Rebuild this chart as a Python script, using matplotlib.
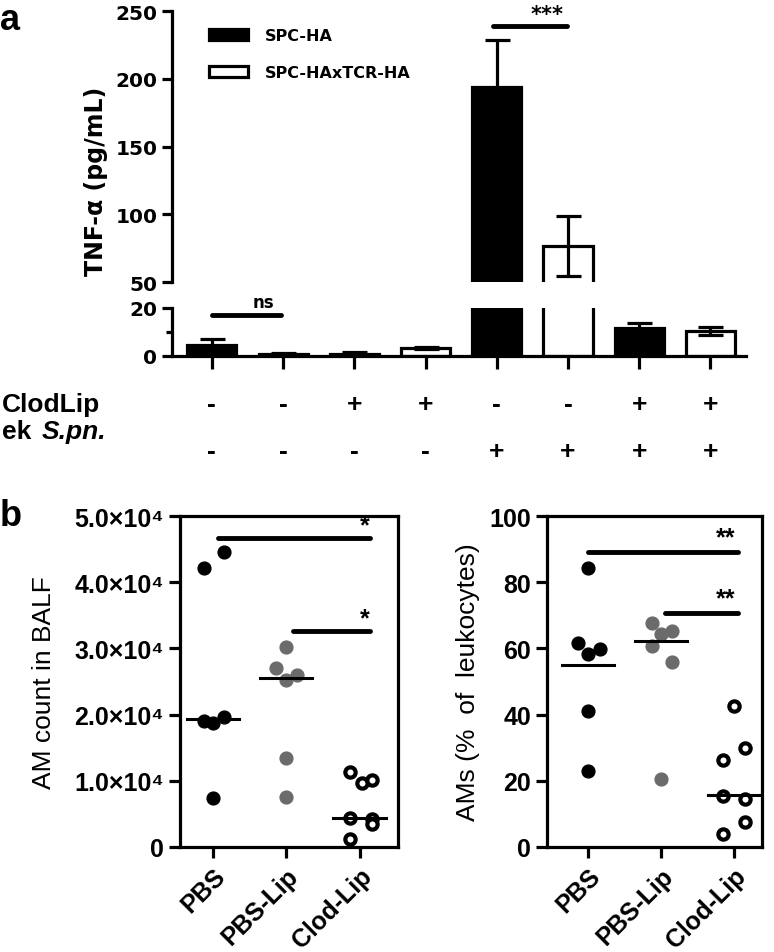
import matplotlib.pyplot as plt
import numpy as np
from matplotlib.patches import Patch
from matplotlib.transforms import blended_transform_factory

plt.rcParams['font.family'] = ['Liberation Sans', 'DejaVu Sans']
plt.rcParams['font.weight'] = 'bold'

# ---- panel a data ----
tnf_mean = [4.6, 0.8, 1.0, 3.3, 194, 76.6, 11.7, 10.4]
tnf_err = [2.5, 0.3, 0.5, 0.5, 34.5, 22, 2.0, 1.8]
bar_fill = ['black', 'white', 'black', 'white', 'black', 'white', 'black', 'white']
clodlip = ['-', '-', '+', '+', '-', '-', '+', '+']
spn = ['-', '-', '-', '-', '+', '+', '+', '+']
legend_names = ['SPC-HA', 'SPC-HAxTCR-HA']

# ---- panel b data ----
b_groups = ['PBS', 'PBS-Lip', 'Clod-Lip']
am_pbs = [42200, 44500, 19100, 18700, 19600, 7350]
am_pbs_x = [-0.12, 0.15, -0.12, 0.0, 0.15, 0.0]
am_pbslip = [30200, 27100, 25200, 26000, 13400, 7600]
am_pbslip_x = [0.0, -0.14, 0.0, 0.15, 0.0, 0.0]
am_clod = [11300, 9700, 10100, 4400, 4200, 3500, 1200]
am_clod_x = [-0.14, 0.03, 0.16, -0.14, 0.16, 0.17, -0.13]
am_lines = [19400, 25600, 4400]
am_ticklabels = ['0', '1.0×10⁴', '2.0×10⁴', '3.0×10⁴', '4.0×10⁴', '5.0×10⁴']

pct_pbs = [84.4, 61.6, 58.3, 59.8, 41.0, 23.1]
pct_pbs_x = [0.0, -0.13, 0.0, 0.16, 0.0, 0.0]
pct_pbslip = [67.8, 64.3, 65.3, 60.8, 55.8, 20.6]
pct_pbslip_x = [-0.13, 0.0, 0.15, -0.13, 0.15, 0.0]
pct_clod = [42.6, 29.9, 26.3, 15.4, 14.5, 7.6, 3.9]
pct_clod_x = [0.0, 0.15, -0.15, -0.15, 0.15, 0.15, -0.15]
pct_lines = [55.0, 62.3, 15.6]

fig = plt.figure(figsize=(7.74, 9.53), dpi=100)

lw = 2.3
ax_up = fig.add_axes([0.2222, 0.7030, 0.7416, 0.2844])
ax_lo = fig.add_axes([0.2222, 0.6254, 0.7416, 0.0504])
x = np.arange(len(tnf_mean))
for ax in (ax_up, ax_lo):
    ax.bar(x, tnf_mean, width=0.69, color=bar_fill, edgecolor='black', linewidth=lw)
    ax.errorbar(x, tnf_mean, yerr=tnf_err, fmt='none', ecolor='black',
                elinewidth=lw, capsize=9, capthick=lw)
    ax.set_xlim(-0.56, 7.5)
    for s in ('top', 'right'):
        ax.spines[s].set_visible(False)
    ax.spines['left'].set_linewidth(lw)
    ax.spines['bottom'].set_linewidth(lw)
    ax.tick_params(width=lw, length=7)

ax_up.set_ylim(50, 250)
ax_up.set_yticks([50, 100, 150, 200, 250])
ax_up.spines['bottom'].set_visible(False)
ax_up.set_xticks([])
ax_lo.set_ylim(0, 20)
ax_lo.set_yticks([0, 20])
ax_lo.set_yticks([10], minor=True)
ax_lo.tick_params(axis='y', which='minor', width=lw, length=4)
ax_lo.set_xticks(x)
ax_lo.set_xticklabels([])
ax_lo.tick_params(axis='x', length=9)
for ax in (ax_up, ax_lo):
    ax.set_yticklabels([str(int(v)) for v in ax.get_yticks()],
                       fontsize=14.5, family='DejaVu Sans', fontweight='bold')

fig.text(0.124, 0.81, 'TNF-α (pg/mL)', rotation=90, ha='center', va='center',
         fontsize=17, family='DejaVu Sans', fontweight='bold')

handles = [Patch(facecolor=c, edgecolor='black', linewidth=lw) for c in ('black', 'white')]
ax_up.legend(handles, legend_names, loc='upper left', bbox_to_anchor=(0.04, 0.99),
             frameon=False, handlelength=2.4, handleheight=0.7, handletextpad=1.1,
             labelspacing=1.4, prop={'family': 'DejaVu Sans', 'weight': 'bold', 'size': 11.5})

# significance
ax_lo.plot([0, 0.97], [17, 17], color='black', lw=3.5, solid_capstyle='round', clip_on=False)
ax_lo.text(0.72, 22.5, 'ns', ha='center', va='center', fontsize=12,
           family='DejaVu Sans', clip_on=False)
ax_up.plot([3.95, 4.98], [239, 239], color='black', lw=3.5, solid_capstyle='round', clip_on=False)
ax_up.text(4.71, 248, '***', ha='center', va='center', fontsize=15,
           family='DejaVu Sans', clip_on=False)

# treatment rows
tr = blended_transform_factory(ax_lo.transData, fig.transFigure)
for i in x:
    ax_lo.text(i, 1 - 405 / 953, clodlip[i], transform=tr, ha='center', va='center', fontsize=19)
    ax_lo.text(i, 1 - 452 / 953, spn[i], transform=tr, ha='center', va='center', fontsize=19)
fig.text(0.002, 1 - 405 / 953, 'ClodLip', ha='left', va='center', fontsize=19)
fig.text(0.002, 1 - 432 / 953, 'ek', ha='left', va='center', fontsize=19)
fig.text(0.054, 1 - 432 / 953, 'S.pn.', ha='left', va='center', fontsize=19, style='italic')

fig.text(0.0, 1 - 3 / 953, 'a', ha='left', va='top', fontsize=26)
fig.text(0.0, 1 - 517 / 953, 'b', ha='left', va='center', fontsize=26)

# ---- panel b ----
def dot_panel(ax, groups_y, groups_x, lines, xlim):
    colors = ['black', '#6b6b6b', 'white']
    for k in range(3):
        xs = [k + d for d in groups_x[k]]
        if k < 2:
            ax.scatter(xs, groups_y[k], s=85, color=colors[k], zorder=3)
        else:
            ax.scatter(xs, groups_y[k], s=55, facecolor='white', edgecolor='black',
                       linewidth=3.0, zorder=3)
        ax.plot([k - 0.36, k + 0.35], [lines[k], lines[k]], color='black', lw=2.2, zorder=4)
    ax.set_xlim(*xlim)
    ax.set_xticks(range(3))
    ax.set_xticklabels(b_groups, rotation=45, ha='right', rotation_mode='anchor', fontsize=18)
    for s in ax.spines.values():
        s.set_linewidth(lw)
    ax.tick_params(width=lw, length=8, labelsize=18)

ax_b1 = fig.add_axes([0.2326, 0.1102, 0.2817, 0.3473])
dot_panel(ax_b1, [am_pbs, am_pbslip, am_clod], [am_pbs_x, am_pbslip_x, am_clod_x],
          am_lines, (-0.45, 2.52))
ax_b1.set_ylim(0, 50000)
ax_b1.set_yticks([0, 10000, 20000, 30000, 40000, 50000])
ax_b1.set_yticklabels(am_ticklabels, fontsize=18)
ax_b1.set_ylabel('AM count in BALF', fontsize=19, fontweight='normal')
ax_b1.yaxis.set_label_coords(-0.57, 0.5)
ax_b1.plot([0.07, 2.14], [46700, 46700], color='black', lw=3.5, solid_capstyle='round')
ax_b1.text(2.07, 48600, '*', ha='center', va='center', fontsize=18)
ax_b1.plot([1.09, 2.14], [32600, 32600], color='black', lw=3.5, solid_capstyle='round')
ax_b1.text(2.07, 34600, '*', ha='center', va='center', fontsize=18)

ax_b2 = fig.add_axes([0.7067, 0.1102, 0.2778, 0.3473])
dot_panel(ax_b2, [pct_pbs, pct_pbslip, pct_clod], [pct_pbs_x, pct_pbslip_x, pct_clod_x],
          pct_lines, (-0.56, 2.38))
ax_b2.set_ylim(0, 100)
ax_b2.set_yticks([0, 20, 40, 60, 80, 100])
ax_b2.set_yticklabels(['0', '20', '40', '60', '80', '100'], fontsize=18)
ax_b2.set_ylabel('AMs (%  of  leukocytes)', fontsize=19, fontweight='normal')
ax_b2.yaxis.set_label_coords(-0.31, 0.5)
ax_b2.plot([0.0, 2.05], [89.1, 89.1], color='black', lw=3.5, solid_capstyle='round')
ax_b2.text(1.88, 93.5, '**', ha='center', va='center', fontsize=18)
ax_b2.plot([1.05, 2.05], [70.6, 70.6], color='black', lw=3.5, solid_capstyle='round')
ax_b2.text(1.88, 75.0, '**', ha='center', va='center', fontsize=18)

fig.savefig('out.png', dpi=100)
